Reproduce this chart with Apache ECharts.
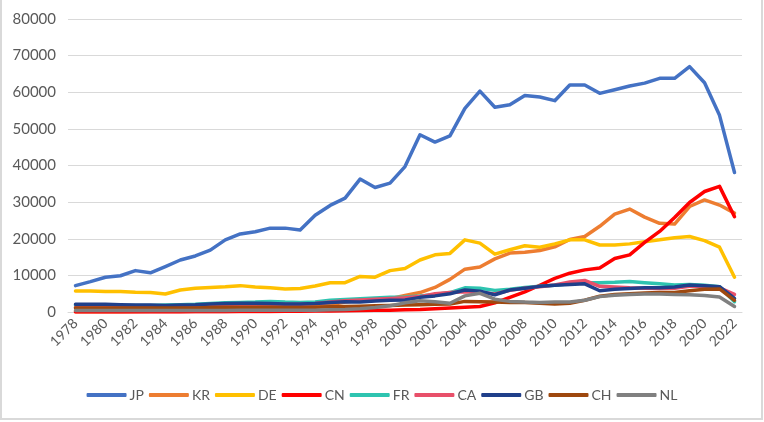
<!DOCTYPE html>
<html>
<head>
<meta charset="utf-8">
<script src="https://cdn.jsdelivr.net/npm/echarts@6/dist/echarts.min.js"></script>
<style>
html,body{margin:0;padding:0;background:#fff;}
#c{width:764px;height:422px;}
</style>
</head>
<body>
<div id="c"></div>
<script>
const years = [];
for (let y = 1978; y <= 2022; y++) years.push(String(y));

const JP = [7200,8300,9500,9900,11300,10700,12400,14200,15300,16900,
            19700,21300,21900,22900,22900,22400,26400,29100,31100,36300,
            34000,35200,39700,48400,46400,48100,55600,60300,55900,56600,
            59100,58700,57700,62000,62000,59700,60700,61700,62500,63800,
            63800,67000,62600,53700,38100];
const KR = [100,100,100,100,150,200,250,300,400,500,
            600,700,800,900,1000,1200,1500,2000,2700,3200,
            3300,3600,4500,5300,6700,8900,11700,12300,14500,16100,
            16300,16800,17800,19800,20600,23400,26700,28100,25900,24200,
            24000,28800,30600,29200,27000];
const DE = [5700,5700,5600,5600,5400,5300,4900,6000,6500,6700,
            6900,7200,6800,6600,6300,6400,7100,8000,8000,9700,
            9500,11300,11900,14200,15600,16000,19700,18800,15800,17000,
            18100,17700,18600,19700,19700,18300,18300,18600,19200,19700,
            20300,20600,19500,17700,9500];
const CN = [0,0,0,0,0,0,0,20,50,80,
            100,120,150,150,200,200,250,300,350,400,
            450,500,600,700,900,1100,1300,1500,2500,4000,
            5500,7300,9200,10600,11500,12000,14600,15600,19000,22000,
            25800,29900,32900,34300,26000];
const FR = [1700,1700,1800,1800,1800,1800,1900,2000,2100,2300,
            2500,2600,2700,2900,2700,2600,2700,3200,3400,3600,
            3800,4000,4100,4400,4800,5300,6600,6500,5900,6200,
            6700,7000,7300,7700,8000,8000,8100,8300,8000,7700,
            7400,7500,7300,6900,2800];
const CA = [1200,1200,1300,1300,1300,1300,1400,1500,1600,1700,
            1800,1900,2000,2100,2100,2100,2300,2700,3100,3300,
            3500,3700,3900,4200,5000,5300,5500,5300,4900,5900,
            6500,6900,7400,8200,8600,7000,6800,6600,6500,6400,
            6500,7000,7000,6600,4800];
const GB = [2100,2100,2100,2000,1900,1900,1800,1900,2000,2200,
            2300,2400,2400,2300,2200,2200,2300,2600,2800,2700,
            3000,3200,3300,4000,4400,5000,6000,5700,4700,6000,
            6500,7000,7300,7500,7700,5800,6200,6400,6600,6600,
            6800,7400,7200,6900,3700];
const CH = [1100,1100,1100,1100,1100,1100,1100,1100,1100,1200,
            1300,1300,1300,1300,1200,1200,1300,1400,1500,1600,
            1700,1800,1900,2000,2100,2200,2900,2800,2700,2600,
            2600,2400,2200,2400,3200,4300,4800,5000,5200,5300,
            5300,5800,6200,6300,3200];
const NL = [400,400,400,400,400,400,400,400,400,400,
            400,500,500,500,500,500,500,600,700,900,
            1200,1700,2500,3100,2800,2400,4400,5100,3500,2900,
            2700,2600,2700,2700,3200,4200,4600,4800,4900,4900,
            4800,4700,4500,4100,1500];

const names  = ['JP','KR','DE','CN','FR','CA','GB','CH','NL'];
const values = [JP, KR, DE, CN, FR, CA, GB, CH, NL];
const colors = ['#4472C4','#ED7D31','#FFC000','#FF0000','#2EC4B0','#E8506A','#203F8A','#9E480E','#808080'];

const font = "Lato, 'Open Sans', sans-serif";

const chart = echarts.init(document.getElementById('c'), null, {renderer:'canvas'});
chart.setOption({
  animation: false,
  backgroundColor: '#ffffff',
  color: colors,
  graphic: [{
    type: 'rect', silent: true, z: -10,
    shape: {x: 1, y: -4, width: 761, height: 423},
    style: {fill: 'none', stroke: '#d9d9d9', lineWidth: 2}
  }],
  grid: {left: 68, right: 22, top: 19, bottom: 110, containLabel: false},
  legend: {
    bottom: 15, left: 'center',
    icon: 'roundRect',
    itemWidth: 40, itemHeight: 4, itemGap: 5,
    textStyle: {color: '#595959', fontSize: 14, fontFamily: font, padding: [0,0,0,-2]},
    data: names
  },
  xAxis: {
    type: 'category',
    data: years,
    boundaryGap: true,
    axisLine: {show: true, lineStyle: {color: '#d9d9d9', width: 1}},
    axisTick: {show: false},
    axisLabel: {interval: 1, rotate: 45, color: '#595959', fontSize: 14, fontFamily: font, margin: 9}
  },
  yAxis: {
    type: 'value',
    min: 0, max: 80000, interval: 10000,
    axisLine: {show: false},
    axisTick: {show: false},
    splitLine: {lineStyle: {color: '#d9d9d9', width: 1}},
    axisLabel: {color: '#595959', fontSize: 15, fontFamily: font, margin: 12,
                formatter: v => String(v)}
  },
  series: names.map((n, i) => ({
    name: n,
    type: 'line',
    data: values[i],
    symbol: 'none',
    lineStyle: {width: 3.5, color: colors[i], cap: 'round', join: 'round'},
    itemStyle: {color: colors[i]}
  }))
});
</script>
</body>
</html>
